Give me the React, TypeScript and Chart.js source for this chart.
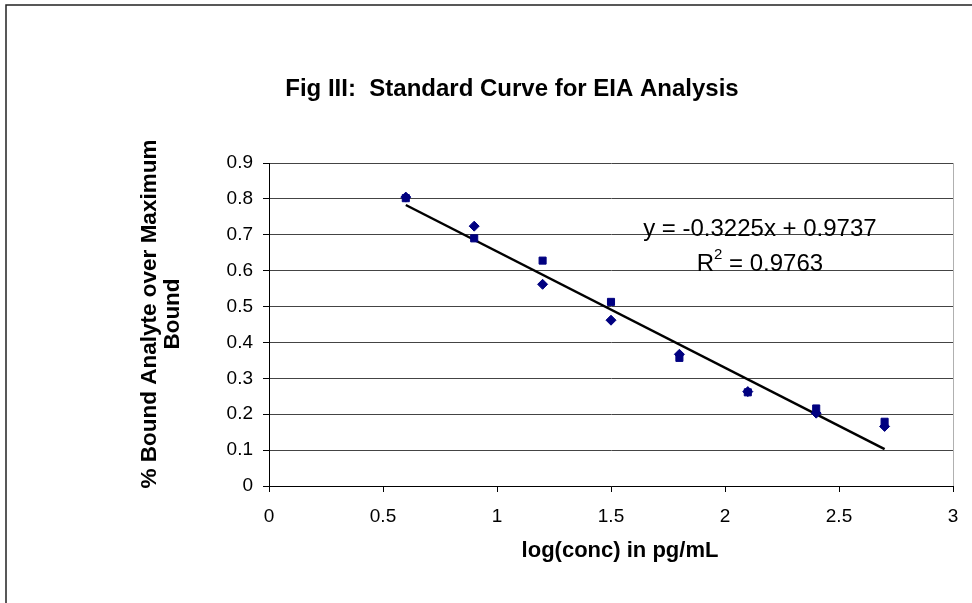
import React, { useEffect, useRef } from "react";
import { Chart, registerables } from "chart.js";

Chart.register(...registerables);

const xValues = [0.6, 0.9, 1.2, 1.5, 1.8, 2.1, 2.4, 2.7];
const seriesDiamond = [0.805, 0.724, 0.562, 0.462, 0.367, 0.263, 0.203, 0.166];
const seriesSquare = [0.802, 0.69, 0.628, 0.513, 0.357, 0.261, 0.216, 0.179];
const trendX = [0.6, 2.7];
const trendY = [0.783, 0.103];

const titleText = "Fig III:  Standard Curve for EIA Analysis";
const xTitle = "log(conc) in pg/mL";
const yTitleLines = ["% Bound Analyte over Maximum", "Bound"];
const equationText = "y = -0.3225x + 0.9737";
const r2Value = "= 0.9763";

const FONT = "'Liberation Sans', Arial, sans-serif";

const decorPlugin = {
  id: "decor",
  beforeDraw(chart: any) {
    const ctx = chart.ctx;
    ctx.save();
    ctx.fillStyle = "#ffffff";
    ctx.fillRect(0, 0, chart.width, chart.height);
    ctx.strokeStyle = "#222";
    ctx.lineWidth = 1.5;
    ctx.strokeRect(6, 5, 1100, 1100);
    ctx.restore();
  },
  afterDraw(chart: any) {
    const ctx = chart.ctx;
    const xs = chart.scales.x;
    const ca = chart.chartArea;
    ctx.save();
    // right plot border
    ctx.strokeStyle = "#b0b0b0";
    ctx.lineWidth = 1;
    ctx.beginPath();
    ctx.moveTo(Math.round(ca.right) + 0.5, ca.top);
    ctx.lineTo(Math.round(ca.right) + 0.5, ca.bottom);
    ctx.stroke();

    ctx.fillStyle = "#000";
    // title
    ctx.font = `bold 24px ${FONT}`;
    ctx.textAlign = "center";
    ctx.textBaseline = "alphabetic";
    ctx.fillText(titleText, 512, 96);

    // x title
    ctx.font = `bold 22px ${FONT}`;
    ctx.fillText(xTitle, 620, 557);

    // y title
    ctx.font = `bold 22.5px ${FONT}`;
    ctx.save();
    ctx.translate(150, 314);
    ctx.rotate(-Math.PI / 2);
    ctx.textBaseline = "middle";
    ctx.fillText(yTitleLines[0], 0, 0);
    ctx.restore();
    ctx.save();
    ctx.translate(173, 314);
    ctx.rotate(-Math.PI / 2);
    ctx.textBaseline = "middle";
    ctx.fillText(yTitleLines[1], 0, 0);
    ctx.restore();

    // equation
    ctx.font = `24px ${FONT}`;
    ctx.textBaseline = "alphabetic";
    ctx.textAlign = "center";
    const ex = xs.getPixelForValue(2.153);
    ctx.fillText(equationText, ex, 236);
    // R^2
    const wR = ctx.measureText("R").width;
    ctx.font = `15px ${FONT}`;
    const w2 = ctx.measureText("2").width;
    ctx.font = `24px ${FONT}`;
    const wRest = ctx.measureText(" " + r2Value).width;
    const total = wR + w2 + wRest;
    let sx = ex - total / 2;
    ctx.textAlign = "left";
    ctx.fillText("R", sx, 271);
    sx += wR;
    ctx.font = `15px ${FONT}`;
    ctx.fillText("2", sx, 259);
    sx += w2;
    ctx.font = `24px ${FONT}`;
    ctx.fillText(" " + r2Value, sx, 271);
    ctx.restore();
  },
};

const fmt = (v: any) => String(Math.round(Number(v) * 10) / 10);

export default function App() {
  const ref = useRef<HTMLCanvasElement | null>(null);
  useEffect(() => {
    if (!ref.current) return;
    const toPts = (ys: number[]) => ys.map((y, i) => ({ x: xValues[i], y }));
    const chart = new Chart(ref.current, {
      type: "scatter",
      data: {
        datasets: [
          {
            label: "Trend",
            type: "line",
            data: trendX.map((x, i) => ({ x, y: trendY[i] })),
            borderColor: "#000",
            borderWidth: 2.5,
            pointRadius: 0,
            fill: false,
            order: 3,
          } as any,
          {
            label: "Series1",
            data: toPts(seriesDiamond),
            pointStyle: "rectRot",
            pointRadius: 5,
            backgroundColor: "#000080",
            borderColor: "#000080",
            borderWidth: 1,
            order: 1,
          },
          {
            label: "Series2",
            data: toPts(seriesSquare),
            pointStyle: "rect",
            pointRadius: 5,
            backgroundColor: "#000080",
            borderColor: "#000080",
            borderWidth: 1,
            order: 2,
          },
        ],
      },
      options: {
        animation: false,
        responsive: false,
        devicePixelRatio: 1,
        layout: { padding: { left: 0, top: 163, right: 19, bottom: 0 } },
        plugins: {
          legend: { display: false },
          tooltip: { enabled: false },
          title: { display: false },
        },
        scales: {
          x: {
            type: "linear",
            min: 0,
            max: 3,
            afterFit: (s: any) => {
              s.height = 117;
            },
            ticks: {
              stepSize: 0.5,
              color: "#000",
              font: { family: FONT, size: 19 },
              padding: 13,
              callback: fmt,
              maxRotation: 0,
            },
            grid: {
              drawOnChartArea: false,
              drawTicks: true,
              tickLength: 6,
              color: "#000",
            },
            border: { color: "#000", width: 1 },
          },
          y: {
            type: "linear",
            min: 0,
            max: 0.9,
            afterFit: (s: any) => {
              s.width = 269;
            },
            ticks: {
              stepSize: 0.1,
              color: "#000",
              font: { family: FONT, size: 19 },
              padding: 10,
              callback: fmt,
            },
            grid: {
              color: "#444",
              tickColor: "#000",
              drawTicks: true,
              tickLength: 6,
            },
            border: { color: "#000", width: 1 },
          },
        },
      },
      plugins: [decorPlugin],
    });
    return () => chart.destroy();
  }, []);
  return (
    <div style={{ position: "fixed", left: 0, top: 0, width: 972, height: 603, background: "#fff" }}>
      <canvas ref={ref} width={972} height={603} style={{ width: 972, height: 603, display: "block" }} />
    </div>
  );
}
